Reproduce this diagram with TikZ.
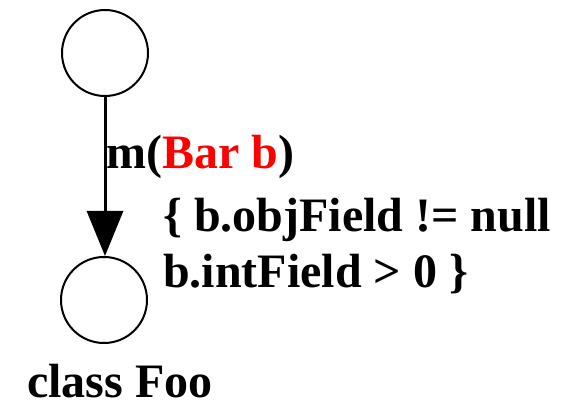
\documentclass[tikz,border=0pt]{standalone}
\usepackage{fontspec}
\setmainfont{Liberation Serif}
\usetikzlibrary{arrows.meta}
\tikzset{
  state/.style={circle,draw,line width=2pt,minimum size=86pt,inner sep=0pt},
  lbl/.style={anchor=base west,inner sep=0pt,font=\fontsize{48}{55}\selectfont\bfseries},
  trans/.style={line width=3pt,-{Triangle[length=45pt,width=36pt]}}
}
\begin{document}
\begin{tikzpicture}[x=1pt,y=-1pt]
\useasboundingbox (0,0) rectangle (568,409);
\node[state] (top) at (105,53) {};
\node[state] (bot) at (104,300) {};
\draw[trans] (top.south) -- (top.south |- bot.north);
\node[lbl] (sig) at (106,168) {m(\textcolor{red}{Bar b})};
\node[lbl] (g1) at (163,232) {\{ b.objField != null};
\node[lbl] (g2) at (163,287) {b.intField > 0 \}};
\node[lbl] (cls) at (27,397) {class Foo};
\end{tikzpicture}
\end{document}
